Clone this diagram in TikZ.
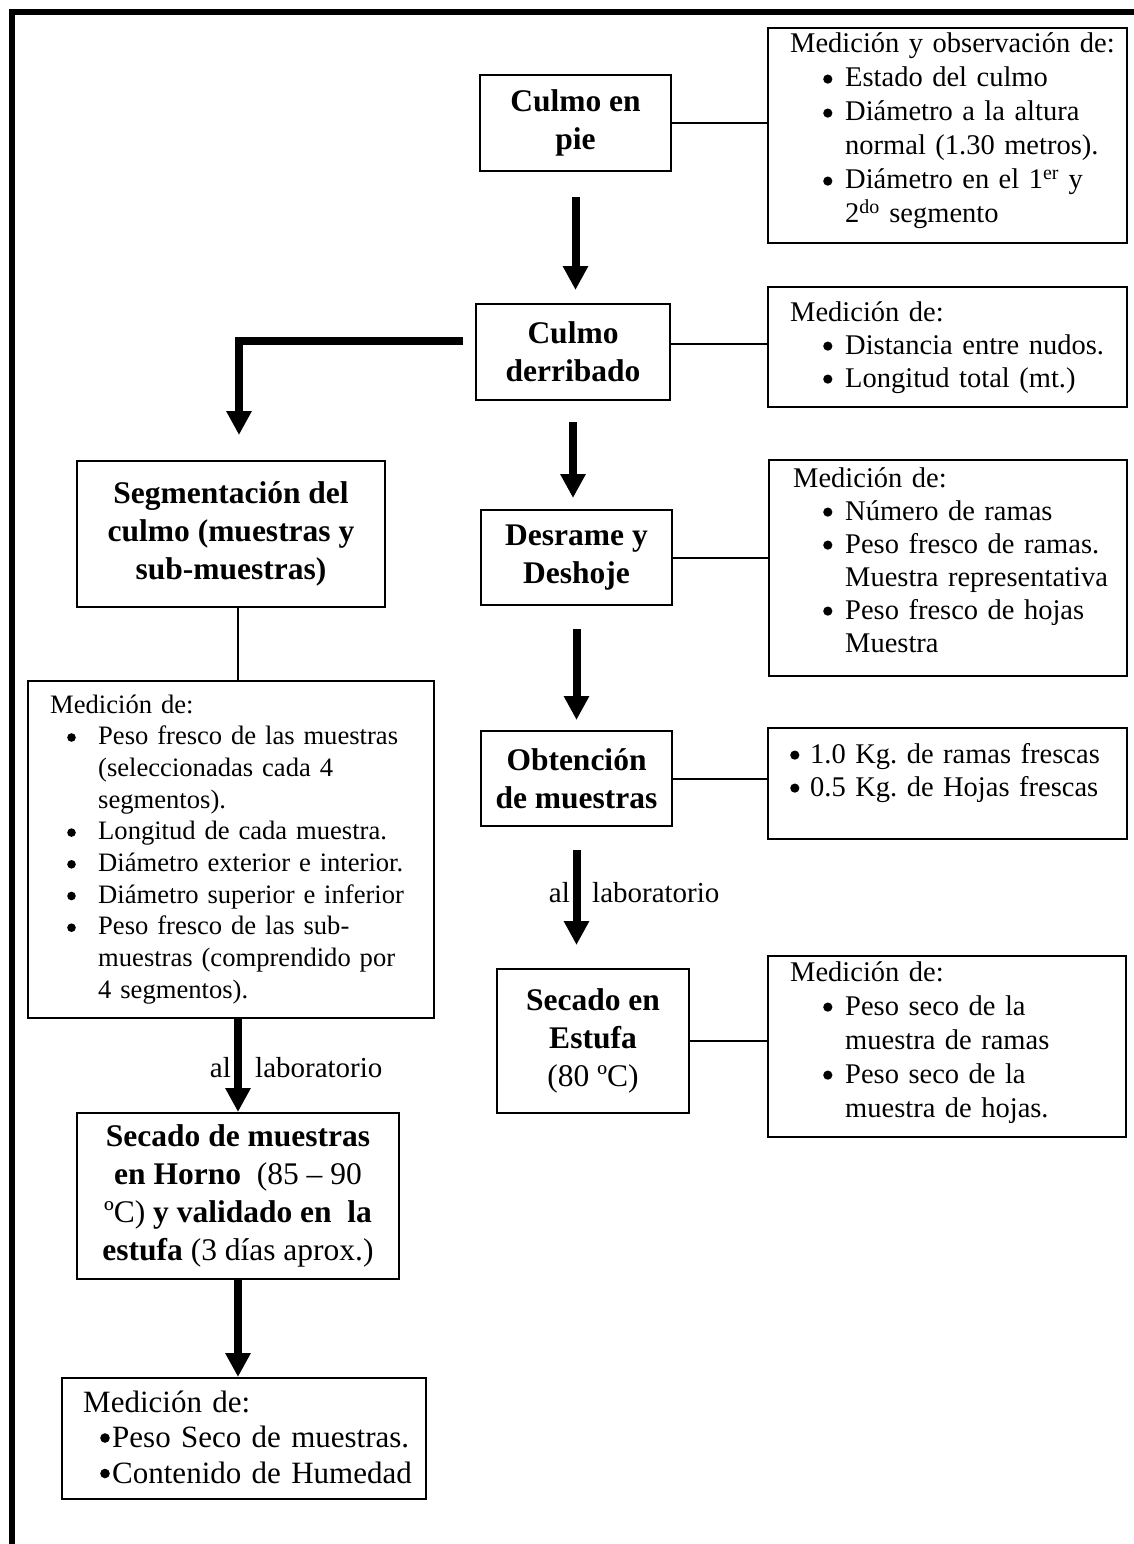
\documentclass[tikz,border=0pt]{standalone}
\usepackage{fontspec}
\setmainfont{Liberation Serif}
\usetikzlibrary{arrows.meta}
\def\br{4.6pt}\def\bh{7.9pt}
\newcommand{\dotb}{\tikz[baseline=0pt]\fill (\br,\bh) circle[radius=\br];}
\newcommand{\bl}[3]{\par\hangindent=#2pt\hangafter=1\noindent\hspace*{#1pt}\makebox[\dimexpr#2pt-#1pt\relax][l]{\dotb}#3}
\newcommand{\blfirst}[3]{\hangindent=#2pt\hangafter=1\noindent\hspace*{#1pt}\makebox[\dimexpr#2pt-#1pt\relax][l]{\dotb}#3}
\begin{document}
\frenchspacing
\begin{tikzpicture}[x=1pt,y=-1pt,
  box/.style={draw, line width=2pt, inner sep=0pt, anchor=north west},
  title/.style={box, align=center, font=\bfseries\fontsize{31.5}{38}\selectfont},
  txt/.style={anchor=base west, inner sep=0pt, align=left, text width=500pt},
  lab/.style={inner sep=0pt, font=\fontsize{29}{34}\selectfont},
  conn/.style={line width=2pt},
  fat/.style={line width=8pt, -{Triangle[width=24pt,length=24pt]}}]
\useasboundingbox (0,0) rectangle (1134,1544);
\fill[white] (0,0) rectangle (1134,1544);
\draw[line width=6pt] (12,1544) -- (12,12) -- (1134,12);

% process boxes
\node[title, minimum width=191pt, minimum height=96pt] (cpie) at (479,74) {Culmo en\\pie};
\node[title, minimum width=194pt, minimum height=96pt] (cder) at (475,303) {Culmo\\derribado};
\node[title, minimum width=308pt, minimum height=146pt] (seg) at (76,460) {Segmentación del\\culmo (muestras y\\sub-muestras)};
\node[title, minimum width=191pt, minimum height=95pt] (desr) at (480,509) {Desrame y\\Deshoje};
\node[title, minimum width=191pt, minimum height=95pt] (obt) at (480,730) {Obtención\\de muestras};
\node[title, minimum width=192pt, minimum height=144pt] (sest) at (496,968) {Secado en\\Estufa\\{\mdseries (80 ºC)}};
\node[title, font=\fontsize{31.5}{38}\selectfont, minimum width=322pt, minimum height=166pt] (shorno) at (76,1112)
  {\textbf{Secado de muestras}\\\textbf{en Horno}\ \ (85 – 90\\ºC) \textbf{y validado en\ \ la}\\\textbf{estufa} (3 días aprox.)};

% information boxes
\node[box, minimum width=359pt, minimum height=215pt] (info1) at (767,27) {};
\node[box, minimum width=359pt, minimum height=120pt] (info2) at (767,286) {};
\node[box, minimum width=358pt, minimum height=216pt] (info3) at (768,459) {};
\node[box, minimum width=359pt, minimum height=111pt] (info4) at (767,727) {};
\node[box, minimum width=358pt, minimum height=181pt] (info5) at (767,955) {};
\node[box, minimum width=406pt, minimum height=337pt] (left) at (27,680) {};
\node[box, minimum width=364pt, minimum height=121pt] (bot) at (61,1377) {};

\node[txt, font=\fontsize{28.5}{34}\selectfont] (t1) at (790,53)
  {Medición y observación de:\bl{33}{55}{Estado del culmo}\bl{33}{55}{Diámetro a la altura\newline normal (1.30 metros).}\bl{33}{55}{Diámetro en el 1\textsuperscript{er} y\newline 2\textsuperscript{do} segmento}\par};
\node[txt, font=\fontsize{28.5}{33}\selectfont] (t2) at (790,321)
  {Medición de:\bl{33}{55}{Distancia entre nudos.}\bl{33}{55}{Longitud total (mt.)}\par};
\node[txt, font=\fontsize{28.5}{33}\selectfont] (t3) at (793,487)
  {Medición de:\bl{30}{52}{Número de ramas}\bl{30}{52}{Peso fresco de ramas.\newline Muestra representativa}\bl{30}{52}{Peso fresco de hojas\newline Muestra}\par};
\node[txt, font=\fontsize{28.5}{33}\selectfont] (t4) at (790,763)
  {\blfirst{0}{20}{1.0 Kg. de ramas frescas}\bl{0}{20}{0.5 Kg. de Hojas frescas}\par};
\node[txt, font=\fontsize{28.5}{34}\selectfont] (t5) at (790,981)
  {Medición de:\bl{33}{55}{Peso seco de la\newline muestra de ramas}\bl{33}{55}{Peso seco de la\newline muestra de hojas.}\par};
\node[txt, font=\fontsize{26.6}{31.7}\selectfont] (tl) at (50,713)
  {\def\br{4.3pt}\def\bh{7.2pt}Medición de:\bl{17}{48}{Peso fresco de las muestras\newline (seleccionadas cada 4\newline segmentos).}\bl{17}{48}{Longitud de cada muestra.}\bl{17}{48}{Diámetro exterior e interior.}\bl{17}{48}{Diámetro superior e inferior}\bl{17}{48}{Peso fresco de las sub-\newline muestras (comprendido por\newline 4 segmentos).}\par};
\node[txt, font=\fontsize{31}{35.5}\selectfont] (tb) at (83,1412)
  {\def\br{4.8pt}\def\bh{9.5pt}Medición de:\bl{17}{29}{Peso Seco de muestras.}\bl{17}{29}{Contenido de Humedad}\par};

% connectors
\coordinate (lx) at (238,0);
\coordinate (lturn) at (239,341);
\coordinate (c2) at (0,344);
\draw[conn] (cpie.east) -- (cpie.east -| info1.west);
\draw[conn] (cder.east |- c2) -- (info2.west |- c2);
\draw[conn] (desr.east) -- (desr.east -| info3.west);
\draw[conn] (obt.east) -- (obt.east -| info4.west);
\draw[conn] (sest.east) -- (sest.east -| info5.west);
\draw[conn] (seg.south -| lx) -- (left.north -| lx);

% thick arrows
\draw[fat, shorten <=25pt, shorten >=13pt] (cpie.south) -- (cpie.south |- cder.north);
\draw[fat, shorten <=21pt, shorten >=11pt] (cder.south) -- (cder.south |- desr.north);
\draw[fat, shorten <=23pt, shorten >=10pt] (desr.south) -- (desr.south |- obt.north);
\draw[fat, shorten <=23pt, shorten >=23pt] (obt.south) -- (obt.south |- sest.north);
\draw[fat, shorten <=12pt, shorten >=25pt] (cder.west |- lturn) -- (lturn) -- (lturn |- seg.north);
\draw[fat] (left.south -| lx) -- (shorno.north -| lx);
\draw[fat] (shorno.south -| lx) -- (bot.north -| lx);

% labels
\node[lab, anchor=base east] (al1) at (570,902) {al};
\node[lab, anchor=base west] (lab1) at (592,902) {laboratorio};
\node[lab, anchor=base east] (al2) at (231,1077) {al};
\node[lab, anchor=base west] (lab2) at (255,1077) {laboratorio};
\end{tikzpicture}
\end{document}
